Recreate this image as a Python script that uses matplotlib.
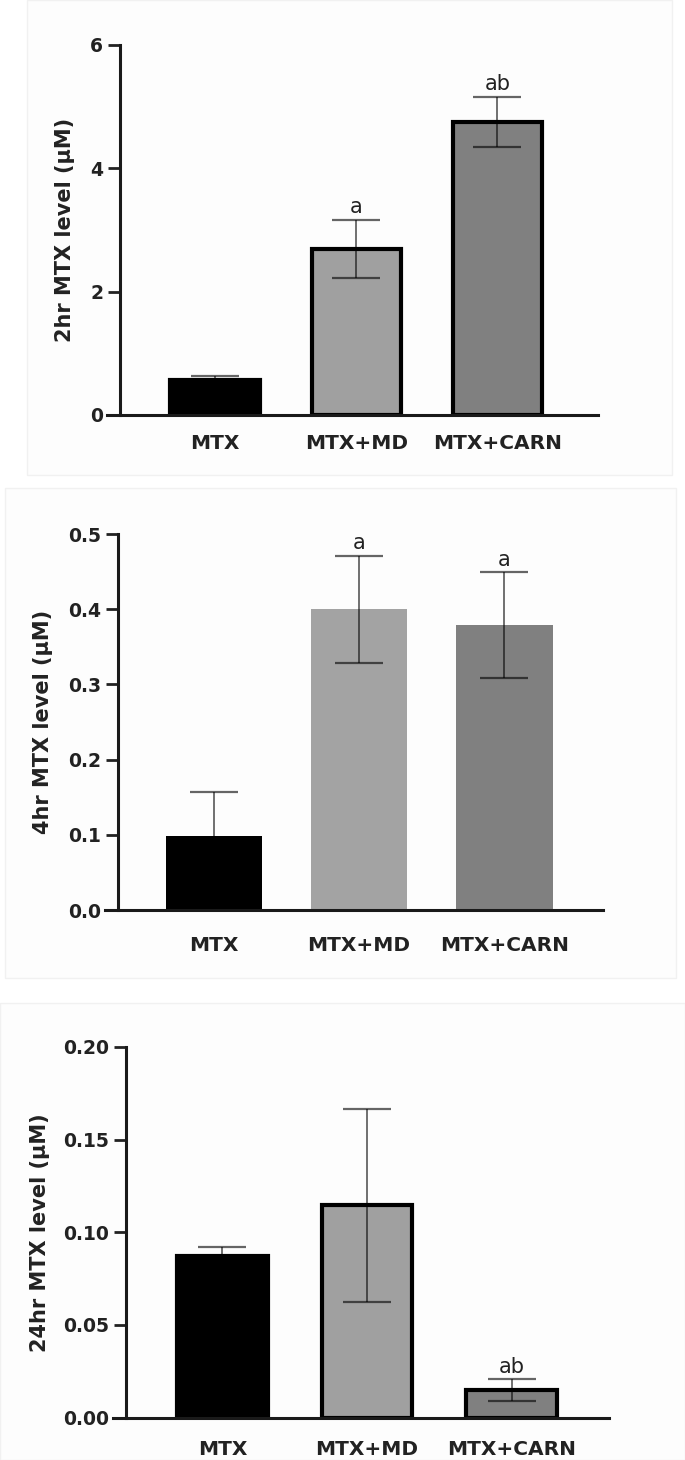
"""MTX plasma levels at 2, 4 and 24 hr for three treatment groups."""
import matplotlib
matplotlib.use("Agg")
import matplotlib.pyplot as plt
from matplotlib.patches import Rectangle

groups = ['MTX', 'MTX+MD', 'MTX+CARN']

# mean and SEM per time point
mtx_2hr = [0.56, 2.69, 4.75]
sem_2hr = [0.07, 0.47, 0.41]
sig_2hr = ['', 'a', 'ab']

mtx_4hr = [0.099, 0.40, 0.379]
sem_4hr = [0.058, 0.071, 0.070]
sig_4hr = ['', 'a', 'a']

mtx_24hr = [0.087, 0.1145, 0.0148]
sem_24hr = [0.005, 0.052, 0.0058]
sig_24hr = ['', '', 'ab']

W, H = 685, 1460
fig = plt.figure(figsize=(W / 100, H / 100), dpi=100)
fig.patch.set_facecolor('white')

# faint panel frames of the original figure
for (x0, y0, x1, y1) in [(27, 0, 672, 475), (5, 488, 676, 978), (0, 1003, 685, 1460)]:
    fig.add_artist(Rectangle((x0 / W, 1 - y1 / H), (x1 - x0) / W, (y1 - y0) / H,
                             transform=fig.transFigure, facecolor='#fdfdfd',
                             edgecolor='#f1f1f1', lw=1, zorder=-5))


def panel(px, vals, errs, sigs, colors, edge, ylim, yticks, ytl, ylabel,
          xlim, width, label_x, xpad):
    left, right, top, bottom = px
    ax = fig.add_axes([left / W, 1 - bottom / H, (right - left) / W, (bottom - top) / H])
    ax.set_zorder(2)
    ax.patch.set_alpha(0)
    for s in ['top', 'right']:
        ax.spines[s].set_visible(False)
    ax.spines['bottom'].set_position(('data', 0))
    pos = range(len(groups))
    ax.bar(pos, vals, width=width, color=colors,
           edgecolor='black' if edge else 'none', linewidth=3 if edge else 0, zorder=2)
    ax.errorbar(pos, vals, yerr=errs, fmt='none', ecolor=(0, 0, 0, 0.6),
                elinewidth=1.3, capsize=17, capthick=1.6, zorder=3)
    for i, s in enumerate(sigs):
        if s:
            ax.annotate(s, (i, vals[i] + errs[i]), xytext=(0, 2), textcoords='offset points',
                        ha='center', va='bottom', fontsize=15, family='DejaVu Sans',
                        color='#222222')
    ax.set_xlim(*xlim)
    ax.set_ylim(*ylim)
    ax.set_yticks(yticks)
    ax.set_yticklabels(ytl, fontsize=13.5, fontweight='bold', color='#222222')
    ax.set_xticks(list(pos))
    ax.set_xticklabels(groups, fontsize=14.5, fontweight='bold', color='#222222')
    ax.tick_params(axis='x', length=0, pad=xpad)
    ax.tick_params(axis='y', length=9, width=2, pad=3, color='#222222')
    for s in ['left', 'bottom']:
        ax.spines[s].set_linewidth(2.2)
        ax.spines[s].set_color('#1a1a1a')
    ax.spines['bottom'].set_bounds(xlim[0] - 13 / ((right - left) / (xlim[1] - xlim[0])), xlim[1])
    ax.set_ylabel(ylabel, fontsize=15, fontweight='bold', color='#222222', va='center')
    ax.yaxis.set_label_coords((label_x - left) / (right - left), 0.5)
    return ax


panel((120, 598, 45, 415), mtx_2hr, sem_2hr, sig_2hr, ['black', '#a0a0a0', '#808080'], True,
      (0, 6), [0, 2, 4, 6], ['0', '2', '4', '6'], '2hr MTX level (μM)',
      (-0.674, 2.713), 0.633, 65, 14)

panel((118, 603, 534, 910), mtx_4hr, sem_4hr, sig_4hr, ['black', '#a3a3a3', '#808080'], False,
      (0, 0.5), [0, 0.1, 0.2, 0.3, 0.4, 0.5], ['0.0', '0.1', '0.2', '0.3', '0.4', '0.5'],
      '4hr MTX level (μM)', (-0.661, 2.68), 0.665, 43, 19)

panel((126, 609, 1047, 1417.5), mtx_24hr, sem_24hr, sig_24hr, ['black', '#a0a0a0', '#808080'], True,
      (0, 0.2), [0, 0.05, 0.10, 0.15, 0.20], ['0.00', '0.05', '0.10', '0.15', '0.20'],
      '24hr MTX level (μM)', (-0.667, 2.673), 0.628, 40, 16)

fig.savefig('out.png', dpi=100)
